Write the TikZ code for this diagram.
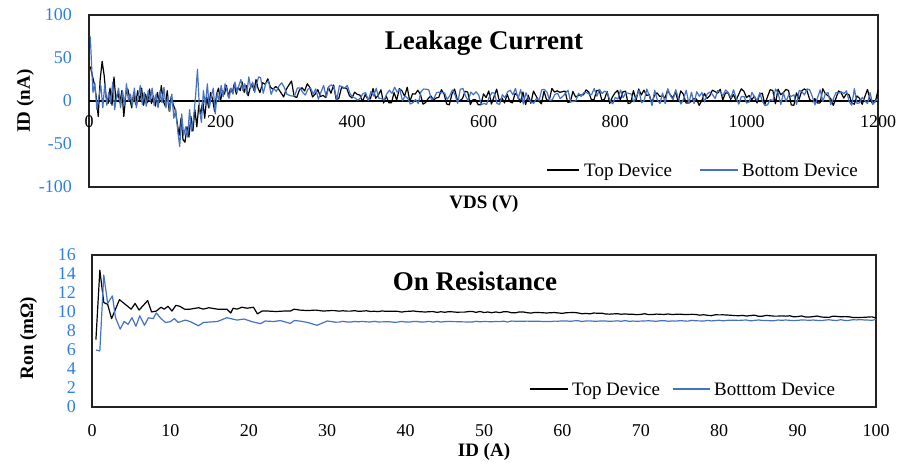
\documentclass[tikz,border=0pt]{standalone}
\usepackage{fontspec}
\setmainfont{Liberation Serif}
\definecolor{seriesblue}{RGB}{68,114,196}
\definecolor{ticksblue}{RGB}{45,125,235}
\definecolor{framegray}{RGB}{35,35,35}
\tikzset{
  plotframe/.style={draw=framegray, line width=1.4pt},
  zeroaxis/.style={draw=black, line width=1.3pt},
  ticklbl/.style={font=\fontsize{18}{20}\selectfont, inner sep=0pt},
  ytick/.style={ticklbl, text=ticksblue, anchor=east},
  xtick/.style={ticklbl, text=black},
  axtitle/.style={font=\fontsize{19}{21}\selectfont\bfseries, inner sep=0pt, anchor=base},
  charttitle/.style={font=\fontsize{27}{30}\selectfont\bfseries, inner sep=0pt, anchor=base},
  legtext/.style={font=\fontsize{19}{21}\selectfont, anchor=base west, inner sep=0pt},
  topseries/.style={black, line width=1.2pt, line join=round},
  botseries/.style={seriesblue, line width=1.2pt, line join=round},
}
\begin{document}
\begin{tikzpicture}[x=1pt, y=-1pt]
\useasboundingbox (0,0) rectangle (911,468);

% ---------------- Leakage current chart ----------------
\draw[plotframe] (89,15) rectangle (878,187);
\draw[zeroaxis] (89,101) -- (878,101);

\begin{scope}[xshift=89pt, yshift=-101pt, x=0.6575pt, y=0.86pt]
  \pgfmathsetseed{4711}
  \draw[topseries] plot coordinates {
    (2,40) (5,30) (8,20) (11,5) (14,-18) (17,25) (20,46) (23,30) (26,5) (29,-3)
    (32,15) (35,-5) (38,28) (41,0) (44,10) (47,-2) (50,12) (53,-18) (56,8) (59,14)
    (62,3) (65,-8) (68,10) (71,-4) (74,12) (77,0) (80,15) (83,-5) (86,8) (89,-2)
    (92,14) (95,-3) (98,6) (101,-6) (104,10) (107,-2) (110,18) (113,0) (116,-6) (119,12)
    (122,-12) (125,5) (128,-4) (131,-10) (134,-25) (137,-40) (140,-20) (143,-45) (146,-48) (149,-30)
    (152,-42) (155,-18) (158,-35) (161,-10) (164,-30) (167,-5) (170,-15) (173,0) (176,-20) (179,5)
    (182,-8) (185,10) (188,2) (191,-12) (194,8) (197,15) (200,0) (203,12) (206,8) (209,18)
    (212,5) (215,14) (218,10) (221,20) (224,8) (227,16) (230,12) (233,22) (236,10) (239,18)
    (242,6) (245,15) (248,20) (251,12) (254,25) (257,15)}
    -- plot[domain=260:1200, samples=236] (\x, {4.5+14*exp(-(\x-260)/110)+10*rand});
  \pgfmathsetseed{2024}
  \draw[botseries] plot coordinates {
    (2,75) (4,40) (6,10) (9,20) (12,-10) (15,5) (18,18) (21,-8) (24,20) (27,-5)
    (30,10) (33,-3) (36,22) (39,-10) (42,5) (45,15) (48,-8) (51,12) (54,-5) (57,20)
    (60,0) (63,8) (66,-6) (69,15) (72,-8) (75,5) (78,18) (81,-4) (84,10) (87,-6)
    (90,12) (93,0) (96,15) (99,-5) (102,8) (105,-8) (108,12) (111,-2) (114,16) (117,-8)
    (120,5) (123,-12) (126,8) (129,-20) (132,-10) (135,-35) (138,-53) (141,-15) (144,-40) (147,-30)
    (150,-42) (153,-10) (156,-35) (159,-20) (162,5) (165,37) (168,-10) (171,-25) (174,12) (177,-5)
    (180,20) (183,-8) (186,5) (189,15) (192,-15) (195,10) (198,0) (201,18) (204,5) (207,20)
    (210,12) (213,3) (216,15) (219,8) (222,22) (225,10) (228,18) (231,25) (234,12) (237,20)
    (240,8) (243,28) (246,15) (249,22) (252,10) (255,20) (258,28)}
    -- plot[domain=261:1200, samples=236] (\x, {4.5+14*exp(-(\x-261)/110)+10*rand});
\end{scope}

% y tick labels
\node[ytick] (ly100) at (72,15)  {100};
\node[ytick] (ly50)  at (72,58)  {50};
\node[ytick] (ly0)   at (72,101) {0};
\node[ytick] (lym50) at (72,144) {-50};
\node[ytick] (lym100) at (72,187) {-100};
% x tick labels
\node[xtick] (lx0)    at (89,122)    {0};
\node[xtick] (lx200)  at (220.5,122) {200};
\node[xtick] (lx400)  at (352,122)   {400};
\node[xtick] (lx600)  at (483.5,122) {600};
\node[xtick] (lx800)  at (615,122)   {800};
\node[xtick] (lx1000) at (746.5,122) {1000};
\node[xtick] (lx1200) at (878,122)   {1200};

\node[charttitle] (ttlleak) at (484,49.5) {Leakage Current};
\node[axtitle] (xttlleak) at (484,208) {VDS (V)};
\node[axtitle, rotate=90] (yttlleak) at (30,101) {ID (nA)};

% legend
\coordinate (lgA1) at (547,170);
\coordinate (lgA2) at (579,170);
\draw[topseries] (lgA1) -- (lgA2);
\node[legtext] (lgAtxt) at (584,177) {Top Device};
\coordinate (lgB1) at (700,170);
\coordinate (lgB2) at (738,170);
\draw[botseries] (lgB1) -- (lgB2);
\node[legtext] (lgBtxt) at (742,177) {Bottom Device};

% ---------------- On resistance chart ----------------
\draw[plotframe] (92,255) rectangle (876,407);

\begin{scope}[xshift=92pt, yshift=-407pt, x=7.84pt, y=9.5pt]
  \pgfmathsetseed{77}
  \draw[topseries] plot coordinates {
    (0.5,7.1) (1,14.4) (1.5,11) (2,10.8) (2.5,9.3) (3.5,11.3) (4.4,10.7) (5,10.3) (5.5,10.9) (6,10.2)
    (7.1,11.2) (7.6,10) (8.2,10.1) (8.8,10.5) (9.2,10.3) (9.7,10.6) (10.2,10.1) (10.7,10.7) (11.2,10.6) (11.8,10.3)
    (12.5,10.3) (13.6,10.45) (14.2,10.3) (14.9,10.45) (16,10.3) (17.2,10.3) (17.7,9.9) (18,10.4) (18.5,10.3) (19.1,10.5)
    (19.8,10.4) (20.6,10.5) (21.1,9.8) (21.7,10.1) (22.4,10.1) (23.5,10.05) (24.5,10.1) (25.3,10.1) (25.8,10.3) (26.5,10.2)
    (27.5,10.15) (28.5,10.2) (29.5,10.1) (30.5,10.15)}
    -- plot[domain=31:100, samples=139] (\x, {10.1-0.006*(\x-31)-0.006*max(\x-56,0)+0.07*rand});
  \pgfmathsetseed{99}
  \draw[botseries] plot coordinates {
    (0.5,6.0) (1,5.9) (1.5,13.9) (2,10.9) (2.6,11.7) (3,9.4) (3.6,8.2) (4.1,9.0) (4.6,8.7) (5.1,9.4)
    (5.6,8.5) (6.1,9.6) (6.7,8.6) (7.2,9.4) (7.8,9.3) (8.2,9.9) (8.8,9.3) (9.4,8.9) (10,8.98) (10.5,9.3)
    (11,8.9) (11.9,9.15) (12.5,9.0) (13.6,8.55) (14.2,8.9) (16,9.0) (17.2,9.4) (18.5,9.15) (19.4,9.26) (20.4,8.98)
    (21.5,8.77) (22.1,9.05) (23.2,9.0) (24,9.1) (25.3,8.8) (25.8,9.1) (26.5,9.05) (27.5,8.9) (28.7,8.6) (30,9.05)
    (30.5,9.0)}
    -- plot[domain=31:100, samples=139] (\x, {8.97+0.0036*max(\x-45,0)+0.05*rand});
\end{scope}

% y tick labels
\node[ytick] (ry16) at (76,255) {16};
\node[ytick] (ry14) at (76,274) {14};
\node[ytick] (ry12) at (76,293) {12};
\node[ytick] (ry10) at (76,312) {10};
\node[ytick] (ry8)  at (76,331) {8};
\node[ytick] (ry6)  at (76,350) {6};
\node[ytick] (ry4)  at (76,369) {4};
\node[ytick] (ry2)  at (76,388) {2};
\node[ytick] (ry0)  at (76,407) {0};
% x tick labels
\foreach \v in {0,10,...,100} {
  \node[xtick] (rx\v) at ({92+7.84*\v},431) {\v};
}

\node[charttitle] (ttlron) at (475,290) {On Resistance};
\node[axtitle] (xttlron) at (484,456) {ID (A)};
\node[axtitle, rotate=90] (yttlron) at (33,338) {Ron (mΩ)};

% legend
\coordinate (rgA1) at (530,389);
\coordinate (rgA2) at (568,389);
\draw[topseries] (rgA1) -- (rgA2);
\node[legtext] (rgAtxt) at (572,395.5) {Top Device};
\coordinate (rgB1) at (673,389);
\coordinate (rgB2) at (710,389);
\draw[botseries] (rgB1) -- (rgB2);
\node[legtext] (rgBtxt) at (714,395.5) {Botttom Device};
\end{tikzpicture}
\end{document}
